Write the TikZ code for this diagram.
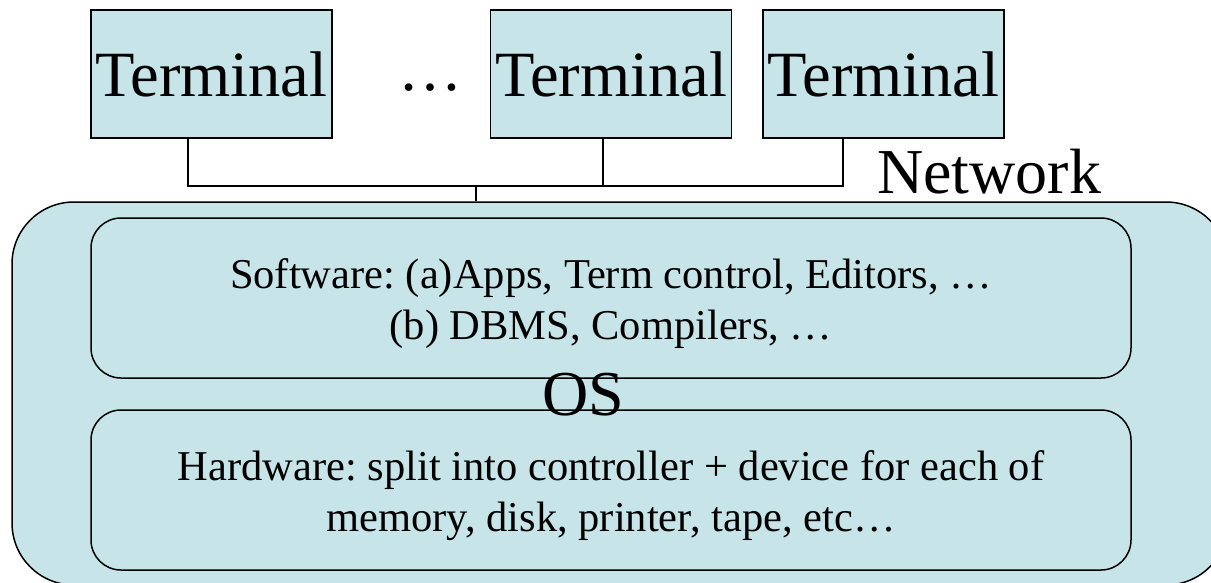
\documentclass[tikz,border=0pt]{standalone}
\usepackage{fontspec}
\setmainfont{Liberation Serif}
\definecolor{boxfill}{HTML}{C7E5E8}
\frenchspacing
\tikzset{
  x=1pt, y=-1pt,
  line/.style={draw=black, line width=1.5pt},
  term/.style={line, fill=boxfill, minimum width=241pt, minimum height=128pt, inner sep=0pt,
               font=\fontsize{64.5}{70}\selectfont},
  layer/.style={line, fill=boxfill, rounded corners=30pt, minimum width=1040pt, minimum height=160pt,
               inner sep=0pt, align=center, font=\fontsize{42.5}{51}\selectfont},
  big/.style={font=\fontsize{64}{70}\selectfont, inner sep=0pt},
}
\begin{document}
\begin{tikzpicture}
\useasboundingbox (0,0) rectangle (1211,582);
\clip (0,0) rectangle (1211,582);
% big OS box
\node[line, fill=boxfill, rounded corners=62pt, minimum width=1216pt, minimum height=383pt, inner sep=0pt]
  (os) at (620,393.5) {};
% layers
\node[layer] (sw) at (611,298) {};
\node[layer] (hw) at (611,490) {};
\node[inner sep=0pt, align=center, font=\fontsize{42.5}{51}\selectfont] (swt) at (611,304)
  {Software: (a)Apps, Term control, Editors, \dots\\(b) DBMS, Compilers, \dots};
\node[inner sep=0pt, align=center, font=\fontsize{42.5}{51}\selectfont] (hwt) at (611,496)
  {Hardware: split into controller + device for each of\\memory, disk, printer, tape, etc\dots};
\node[big] (oslabel) at (583,395) {OS};
% terminals
\node[term] (t1) at (211.5,74) {Terminal};
\node[term] (t2) at (611,74) {Terminal};
\node[term] (t3) at (883.5,74) {Terminal};
\node[big] (dots) at (430,88) {\dots};
\node[big, anchor=base west] (net) at (877,193) {Network};
% network bus
\coordinate (b1) at (188,186);
\coordinate (b2) at (603,186);
\coordinate (b3) at (843,186);
\coordinate (bm) at (476,186);
\draw[line] (t1.south -| b1) -- (b1) -- (b3) -- (t3.south -| b3);
\draw[line] (t2.south -| b2) -- (b2);
\draw[line] (bm) -- (os.north -| bm);
\end{tikzpicture}
\end{document}
